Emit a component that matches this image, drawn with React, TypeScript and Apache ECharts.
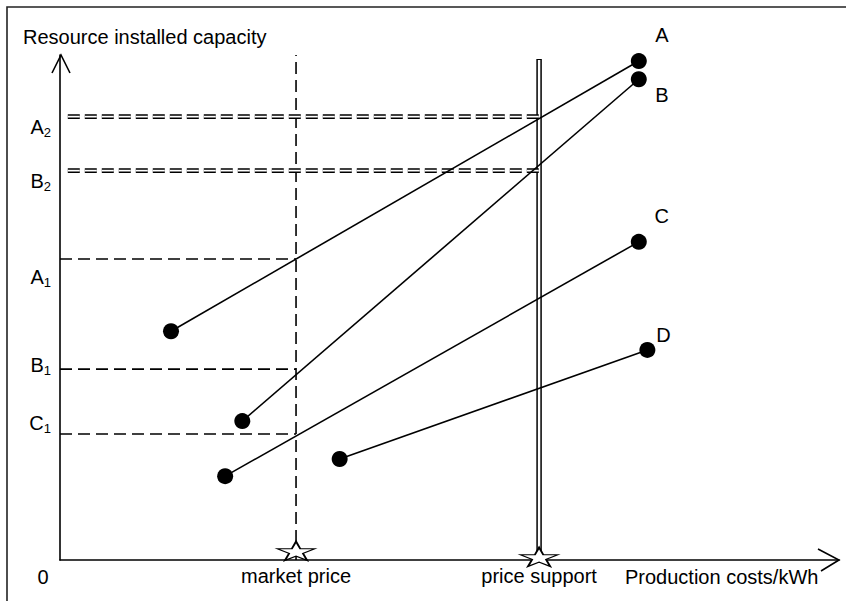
import React, { useEffect, useRef } from "react";
import * as echarts from "echarts";

// Projects: learning curves from start to end
const projects = ["A", "B", "C", "D"];
const startCost = [14.25, 23.4, 21.2, 35.9];
const startCapacity = [45.3, 27.5, 16.6, 20.0];
const endCost = [74.3, 74.3, 74.3, 75.4];
const endCapacity = [98.8, 95.2, 63.0, 41.6];

// Price references on the cost axis
const priceNames = ["market price", "price support"];
const priceValues = [30.3, 61.5];

// Capacity levels reached at the price references
const levelLetters = ["A", "B", "A", "B", "C"];
const levelSubs = ["2", "2", "1", "1", "1"];
const levelValues = [87.8, 77.1, 59.6, 37.8, 24.95];
const levelAtSupport = [true, true, false, false, false];

const FONT = "'Liberation Sans', Arial, sans-serif";
const FS = 20;
const STAR =
  "path://M50,0 L61,35 L98,35 L68,57 L79,91 L50,70 L21,91 L32,57 L2,35 L39,35 Z";

// label nudges (style only)
const levelLabelNudge = [10, 10, 18, -4, -11];
const endLabelOffset: Record<string, number[]> = {
  A: [23, -26],
  B: [23, 16],
  C: [23, -26],
  D: [16, -15],
};
const starOffset = [
  [0, -9],
  [0, -3],
];

export default function App() {
  const ref = useRef<HTMLDivElement>(null);
  useEffect(() => {
    if (!ref.current) return;
    const chart = echarts.init(ref.current, undefined, { renderer: "svg" });
    const series: any[] = [];
    const [market, support] = priceValues;

    series.push({
      type: "line",
      data: [
        [market, 0],
        [market, 100],
      ],
      showSymbol: false,
      silent: true,
      z: 2,
      lineStyle: { color: "#000", width: 1.6, type: [12, 6] },
    });
    series.push({
      type: "line",
      data: [
        [support, 0],
        [support, 99.2],
      ],
      showSymbol: false,
      z: 2,
      lineStyle: { color: "#000", width: 5.5, type: "solid" },
    });
    series.push({
      type: "line",
      data: [
        [support, 0.2],
        [support, 99],
      ],
      showSymbol: false,
      z: 3,
      lineStyle: { color: "#fff", width: 2.5, type: "solid" },
    });

    levelValues.forEach((v, i) => {
      if (levelAtSupport[i]) {
        series.push({
          type: "line",
          data: [
            [1, v],
            [support, v],
          ],
          showSymbol: false,
          z: 3,
          lineStyle: { color: "#000", width: 4.8, type: [12, 5] },
        });
        series.push({
          type: "line",
          data: [
            [1, v],
            [support, v],
          ],
          showSymbol: false,
          z: 4,
          lineStyle: { color: "#fff", width: 1.8, type: [12, 5] },
        });
      } else {
        series.push({
          type: "line",
          data: [
            [0, v],
            [market, v],
          ],
          showSymbol: false,
          z: 3,
          lineStyle: { color: "#000", width: 1.6, type: [12, 6] },
        });
      }
    });

    projects.forEach((p, i) => {
      series.push({
        type: "line",
        name: p,
        data: [
          [startCost[i], startCapacity[i]],
          [endCost[i], endCapacity[i]],
        ],
        z: 6,
        symbol: "circle",
        symbolSize: 16,
        showSymbol: true,
        itemStyle: { color: "#000" },
        lineStyle: { color: "#000", width: 1.6 },
        label: {
          show: true,
          position: "inside",
          offset: endLabelOffset[p],
          formatter: (params: any) => (params.dataIndex === 1 ? p : ""),
          fontSize: FS,
          fontFamily: FONT,
          color: "#000",
        },
      });
    });

    series.push({
      type: "scatter",
      clip: false,
      z: 8,
      symbol: STAR,
      symbolSize: [37, 19],
      data: priceValues.map((v, i) => ({
        value: [v, 0],
        symbolOffset: starOffset[i],
      })),
      itemStyle: {
        color: "#fff",
        borderColor: "#000",
        borderWidth: 1.5,
        opacity: 1,
      },
    });
    series.push({
      type: "scatter",
      clip: false,
      symbolSize: 0,
      z: 8,
      itemStyle: { opacity: 1 },
      data: priceValues.map((v, i) => ({ value: [v, 0], name: priceNames[i] })),
      label: {
        show: true,
        position: "bottom",
        distance: 6,
        formatter: "{b}",
        fontSize: FS,
        fontFamily: FONT,
        color: "#000",
        opacity: 1,
      },
    });

    const baseGraphic: any[] = [
      {
        type: "rect",
        shape: { x: 7, y: 7, width: 900, height: 700 },
        style: { fill: "none", stroke: "#222", lineWidth: 1.6 },
        silent: true,
      },
      {
        type: "polyline",
        shape: { points: [[52, 73], [61, 55], [70, 73]] },
        style: { fill: "none", stroke: "#000", lineWidth: 1.6 },
      },
      {
        type: "polyline",
        shape: { points: [[818, 549], [839, 560], [821, 571]] },
        style: { fill: "none", stroke: "#000", lineWidth: 1.6 },
      },
      {
        type: "text",
        x: 23,
        y: 37,
        style: {
          text: "Resource installed capacity",
          font: `${FS}px ${FONT}`,
          fill: "#000",
          verticalAlign: "middle",
        },
      },
      {
        type: "text",
        x: 625,
        y: 577,
        style: {
          text: "Production costs/kWh",
          font: `${FS}px ${FONT}`,
          fill: "#000",
          verticalAlign: "middle",
        },
      },
      {
        type: "text",
        x: 43,
        y: 577,
        style: {
          text: "0",
          font: `${FS}px ${FONT}`,
          fill: "#000",
          align: "center",
          verticalAlign: "middle",
        },
      },
    ];

    chart.setOption({
      animation: false,
      backgroundColor: "#fff",
      grid: { left: 60, right: 7, top: 55, bottom: 41 },
      xAxis: {
        type: "value",
        min: 0,
        max: 100,
        axisLine: { show: true, lineStyle: { color: "#000", width: 1.6 } },
        axisTick: { show: false },
        axisLabel: { show: false },
        splitLine: { show: false },
      },
      yAxis: {
        type: "value",
        min: 0,
        max: 100,
        axisLine: { show: true, lineStyle: { color: "#000", width: 1.6 } },
        axisTick: { show: false },
        axisLabel: { show: false },
        splitLine: { show: false },
      },
      series,
      graphic: baseGraphic,
    });

    // level labels positioned through the y scale
    const levelGraphic = levelValues.map((v, i) => {
      const [px, py] = chart.convertToPixel({ gridIndex: 0 }, [0, v]) as number[];
      return {
        type: "text",
        x: px - 9,
        y: py + levelLabelNudge[i],
        style: {
          text: `{b|${levelLetters[i]}}{s|${levelSubs[i]}}`,
          align: "right",
          verticalAlign: "middle",
          rich: {
            b: { fontSize: FS, fontFamily: FONT, fill: "#000", lineHeight: 24 },
            s: {
              fontSize: 13,
              fontFamily: FONT,
              fill: "#000",
              lineHeight: 24,
              verticalAlign: "bottom",
              padding: [12, 0, 0, 0],
            },
          },
        },
      };
    });
    chart.setOption({ graphic: [...baseGraphic, ...levelGraphic] });

    return () => chart.dispose();
  }, []);
  return (
    <div
      ref={ref}
      style={{ position: "fixed", left: 0, top: 0, width: 846, height: 601 }}
    />
  );
}
